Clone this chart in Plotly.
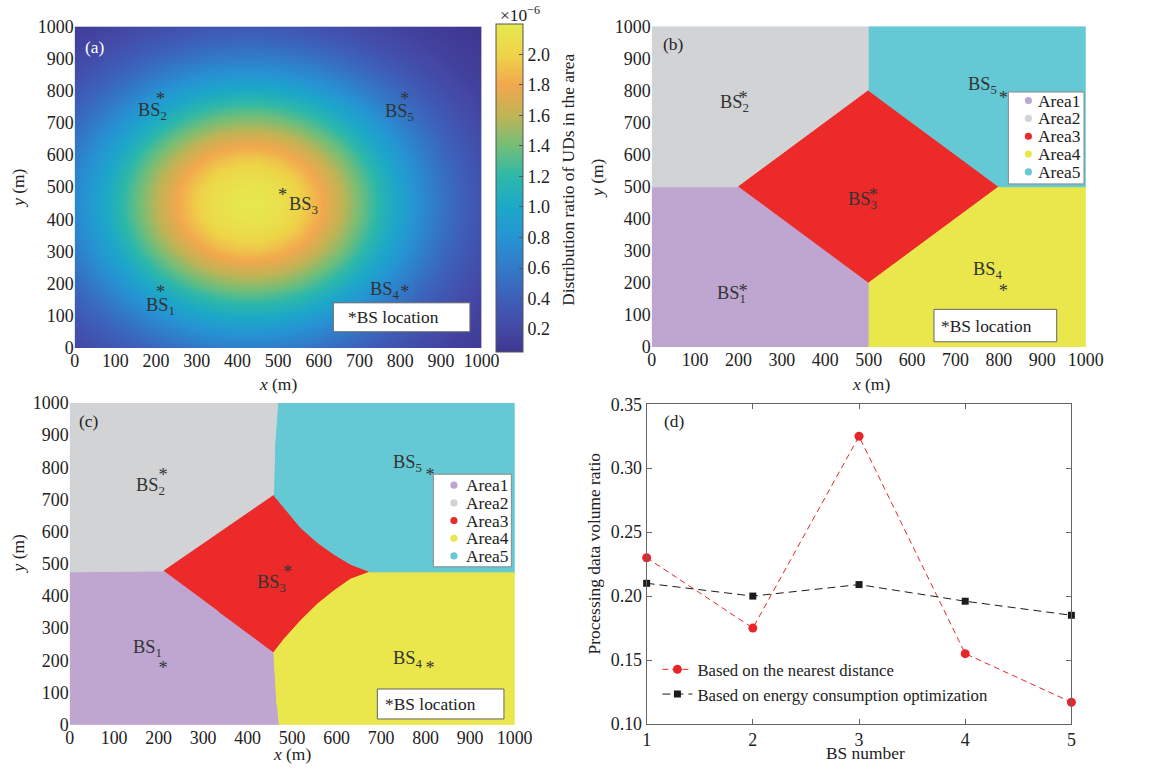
import plotly.graph_objects as go

W, H = 1163, 769
FONT = "Liberation Serif"
INK = "#222222"

# ---------------- data ----------------
GRID_M = [0, 50, 100, 150, 200, 250, 300, 350, 400, 450, 500,
          550, 600, 650, 700, 750, 800, 850, 900, 950, 1000]
AXIS_TICKS_M = [0, 100, 200, 300, 400, 500, 600, 700, 800, 900, 1000]

# (a) UD distribution ratio (x10^-6): peak value and separable x / y profiles on GRID_M
UD_PEAK = 2.2
UD_PROFILE_X = [0.320, 0.411, 0.512, 0.617, 0.722, 0.819, 0.901, 0.961, 0.995, 0.998, 0.970,
                0.915, 0.837, 0.742, 0.638, 0.532, 0.431, 0.338, 0.257, 0.189, 0.135]
UD_PROFILE_Y = [0.288, 0.374, 0.470, 0.575, 0.681, 0.782, 0.871, 0.940, 0.985, 1.000, 0.985,
                0.940, 0.871, 0.782, 0.681, 0.575, 0.470, 0.374, 0.288, 0.215, 0.155]
CBAR_TICKS = [0.2, 0.4, 0.6, 0.8, 1.0, 1.2, 1.4, 1.6, 1.8, 2.0]
CBAR_LABELS = ["0.2", "0.4", "0.6", "0.8", "1.0", "1.2", "1.4", "1.6", "1.8", "2.0"]

# base stations
BS_IDS = ["1", "2", "3", "4", "5"]
BS_X = [200, 200, 500, 800, 800]
BS_Y = [200, 800, 500, 200, 800]

AREA_NAMES = ["Area1", "Area2", "Area3", "Area4", "Area5"]
AREA_COLORS = ["#bea6d1", "#d2d3d5", "#ec2a2a", "#e9e74b", "#64c9d4"]

# (b) service areas by nearest distance
AREAS_B_X = [[0, 500, 500, 200, 0],
             [0, 200, 500, 500, 0],
             [200, 500, 800, 500],
             [500, 1000, 1000, 800, 500],
             [500, 800, 1000, 1000, 500]]
AREAS_B_Y = [[0, 0, 200, 500, 500],
             [500, 500, 800, 1000, 1000],
             [500, 800, 500, 200],
             [0, 0, 500, 500, 200],
             [800, 500, 500, 1000, 1000]]

# (c) service areas by energy consumption optimization
AREAS_C_X = [[0, 470, 466, 463, 459, 335, 212, 0],
             [0, 212, 335, 459, 462, 466, 470, 0],
             [212, 335, 459, 482, 519, 557, 594, 631, 676, 631, 594, 557, 519, 482, 459, 335],
             [470, 1000, 1000, 676, 631, 594, 557, 519, 482, 459, 463, 466],
             [459, 482, 519, 557, 594, 631, 676, 1000, 1000, 470, 466, 462]]
AREAS_C_Y = [[0, 0, 60, 130, 225, 352, 478, 475],
             [475, 478, 596, 713, 850, 930, 1000, 1000],
             [478, 596, 713, 675, 613, 566, 530, 499, 475, 452, 416, 375, 323, 266, 225, 352],
             [0, 0, 475, 475, 452, 416, 375, 323, 266, 225, 130, 60],
             [713, 675, 613, 566, 530, 499, 475, 475, 1000, 1000, 930, 850]]

# (d) processing data volume ratio per BS
BS_NUMBER = [1, 2, 3, 4, 5]
RATIO_NEAREST = [0.230, 0.175, 0.325, 0.155, 0.117]
RATIO_ENERGY = [0.210, 0.200, 0.209, 0.196, 0.185]

UD_COLORSCALE = [
    [0.000, "rgb(62,55,145)"],
    [0.070, "rgb(68,72,165)"],
    [0.163, "rgb(62,95,185)"],
    [0.256, "rgb(50,122,200)"],
    [0.349, "rgb(38,148,212)"],
    [0.442, "rgb(28,168,200)"],
    [0.535, "rgb(45,184,170)"],
    [0.628, "rgb(115,190,120)"],
    [0.721, "rgb(192,180,85)"],
    [0.814, "rgb(242,168,78)"],
    [0.907, "rgb(238,212,72)"],
    [1.000, "rgb(230,232,78)"],
]

# layout grid: page pixel -> figure pixel
SX, OX = 0.981, 3.4
SY, OY = 0.975, 8.6


def fx(x):
    return (x - OX) / SX


def fy(y):
    return (y - OY) / SY


def paper(x, y):
    return fx(x) / W, 1 - fy(y) / H


FS = 17.4      # general text
FS_TICK = 17.9
FS_BS = 18.4
FS_LEG = 16.7

fig = go.Figure()

# ---------------- (a) heatmap ----------------
z = [[UD_PEAK * gy * gx for gx in UD_PROFILE_X] for gy in UD_PROFILE_Y]
fig.add_trace(go.Heatmap(
    x=GRID_M, y=GRID_M, z=z, zsmooth="best", zmin=0.05, zmax=2.2,
    colorscale=UD_COLORSCALE, xaxis="x", yaxis="y", showlegend=False,
    hoverinfo="skip",
    colorbar=dict(
        x=fx(495) / W, xanchor="left", xpad=0, y=1 - fy(186.7) / H, yanchor="middle",
        ypad=0, len=320 / SY, lenmode="pixels", thickness=26.7 / SX,
        thicknessmode="pixels", outlinewidth=1, outlinecolor="#555555",
        tickvals=CBAR_TICKS, ticktext=CBAR_LABELS, ticks="inside", ticklen=4,
        tickcolor="#555555", tickfont=dict(family=FONT, size=FS_TICK, color=INK),
    ),
))


def add_areas(xs_list, ys_list, xa, ya):
    for xs, ys, col, name in zip(xs_list, ys_list, AREA_COLORS, AREA_NAMES):
        fig.add_trace(go.Scatter(
            x=xs, y=ys, fill="toself", fillcolor=col, mode="lines",
            line=dict(color=col, width=1), name=name, showlegend=False,
            xaxis=xa, yaxis=ya, hoverinfo="skip"))


add_areas(AREAS_B_X, AREAS_B_Y, "x2", "y2")
add_areas(AREAS_C_X, AREAS_C_Y, "x3", "y3")

# BS location asterisks
for xa, ya, pos in [("x", "y", ["bottom right"] * 5),
                    ("x2", "y2", ["bottom right"] * 5),
                    ("x3", "y3", ["bottom right", "bottom right", "bottom left",
                                  "bottom right", "bottom right"])]:
    fig.add_trace(go.Scatter(
        x=BS_X, y=BS_Y, mode="text", text=["*"] * 5, textposition=pos,
        textfont=dict(family=FONT, size=FS_BS, color="#333333"),
        xaxis=xa, yaxis=ya, showlegend=False, hoverinfo="skip", cliponaxis=False))

# ---------------- (d) lines ----------------
fig.add_trace(go.Scatter(
    x=BS_NUMBER, y=RATIO_NEAREST, mode="lines+markers",
    name="Based on the nearest distance",
    line=dict(color="#e8262a", width=1, dash="6px,4px"),
    marker=dict(symbol="circle", size=9, color="#e8262a"),
    xaxis="x4", yaxis="y4", cliponaxis=False))
fig.add_trace(go.Scatter(
    x=BS_NUMBER, y=RATIO_ENERGY, mode="lines+markers",
    name="Based on energy consumption optimization",
    line=dict(color="#1c1c1c", width=1, dash="8px,5px"),
    marker=dict(symbol="square", size=7, color="#1c1c1c"),
    xaxis="x4", yaxis="y4", cliponaxis=False))

tickfont = dict(family=FONT, size=FS_TICK, color=INK)
map_axis = dict(range=[0, 1000], tickvals=AXIS_TICKS_M, showgrid=False, zeroline=False,
                showline=False, ticks="", tickfont=tickfont, fixedrange=True)


def dom_x(a, b):
    return [fx(a) / W, fx(b) / W]


def dom_y(top, bottom):
    return [1 - fy(bottom) / H, 1 - fy(top) / H]


layout_axes = {}
for i, (dx, dy) in enumerate([((74, 481), (25, 347)),
                              ((651, 1085), (25, 346)),
                              ((69, 514), (402, 724))]):
    sfx = "" if i == 0 else str(i + 1)
    layout_axes["xaxis" + sfx] = dict(map_axis, domain=dom_x(*dx), anchor="y" + sfx)
    layout_axes["yaxis" + sfx] = dict(map_axis, domain=dom_y(*dy), anchor="x" + sfx)

frame = dict(showline=True, linecolor="#666666", linewidth=1, mirror="ticks",
             ticks="inside", ticklen=5, tickcolor="#666666", showgrid=False,
             zeroline=False, tickfont=tickfont)
layout_axes["xaxis4"] = dict(frame, domain=dom_x(646, 1070.7), range=[1, 5],
                             tickvals=BS_NUMBER, anchor="y4")
layout_axes["yaxis4"] = dict(frame, domain=dom_y(403.3, 723.3), range=[0.10, 0.35],
                             dtick=0.05, tick0=0.1, tickformat=".2f", anchor="x4")

# ---------------- annotations & shapes ----------------
ann = []
shapes = []


def text(s, x, y, size=FS, color=INK, xanchor="center", yanchor="middle", angle=0):
    px, py = paper(x, y)
    ann.append(dict(text=s, x=px, y=py, xref="paper", yref="paper", showarrow=False,
                    xanchor=xanchor, yanchor=yanchor, textangle=angle,
                    font=dict(family=FONT, size=size, color=color)))


def rect(x0, y0, x1, y1, line="#666666"):
    a, b = paper(x0, y1)
    c, d = paper(x1, y0)
    shapes.append(dict(type="rect", xref="paper", yref="paper", x0=a, y0=b, x1=c, y1=d,
                       line=dict(color=line, width=1), fillcolor="white", layer="above"))


def dot(cx, cy, col, r=3.6):
    a, b = paper(cx - r, cy + r)
    c, d = paper(cx + r, cy - r)
    shapes.append(dict(type="circle", xref="paper", yref="paper", x0=a, y0=b, x1=c, y1=d,
                       line=dict(color=col, width=0), fillcolor=col, layer="above"))


# panel tags
text("(a)", 94, 46, color="white")
text("(b)", 672, 43)
text("(c)", 88, 420)
text("(d)", 673, 420)

# axis titles
for s, x, y, ang in [("<i>x</i> (m)", 277, 383, 0), ("<i>y</i> (m)", 18, 187, -90),
                     ("<i>x</i> (m)", 870, 383, 0), ("<i>y</i> (m)", 597, 177, -90),
                     ("<i>x</i> (m)", 291, 753, 0), ("<i>y</i> (m)", 17, 553, -90),
                     ("BS number", 865, 752, 0),
                     ("Processing data volume ratio", 593, 553, -90),
                     ("Distribution ratio of UDs in the area", 568, 179, -90)]:
    text(s, x, y, angle=ang)
text("×10<sup>−6</sup>", 519, 13)

# BS name labels: (id index, left px, baseline px) per panel
BS_LABEL_POS = {
    "a": [(0, 143, 309), (1, 135, 114), (2, 286, 208), (3, 367, 293), (4, 382, 115)],
    "b": [(0, 714, 297), (1, 717, 106), (2, 845, 203), (3, 970, 273), (4, 965, 88)],
    "c": [(0, 130, 652), (1, 133, 490), (2, 254, 587), (3, 390, 663), (4, 390, 467)],
}
for key, items in BS_LABEL_POS.items():
    for idx, lx, by in items:
        text("BS<sub>%s</sub>" % BS_IDS[idx], lx, by - 4, size=FS_BS, color="#333333",
             xanchor="left")

# "*BS location" boxes
for (x0, y0, x1, y1, tx) in [(332.7, 301.7, 469.3, 330.7, 345),
                             (933.3, 308.3, 1056, 340.7, 938.3),
                             (376.7, 688.3, 503.3, 718.3, 382.7)]:
    rect(x0, y0, x1, y1)
    text("*BS location", tx, (y0 + y1) / 2, xanchor="left")

# area legends for (b) and (c)
for (bx0, by0, bx1, by1, mx, tx, ry0, step) in [
        (1007.7, 90.7, 1083.3, 182.7, 1027.7, 1035, 99.3, 17.85),
        (432.7, 473.3, 510.7, 566, 453.3, 463.3, 484.3, 17.7)]:
    rect(bx0, by0, bx1, by1, line="#888888")
    for k, (nm, col) in enumerate(zip(AREA_NAMES, AREA_COLORS)):
        cy = ry0 + k * step
        dot(mx, cy, col)
        text(nm, tx, cy, xanchor="left")

fig.update_layout(
    width=W, height=H, margin=dict(l=0, r=0, t=0, b=0),
    paper_bgcolor="white", plot_bgcolor="white",
    font=dict(family=FONT, size=FS, color=INK),
    annotations=ann, shapes=shapes,
    legend=dict(x=(fx(696) - 40) / W, xanchor="left", y=1 - (fy(672.7) - 22) / H,
                yanchor="top", bgcolor="rgba(0,0,0,0)", borderwidth=0,
                font=dict(family=FONT, size=FS_LEG, color=INK)),
    **layout_axes,
)

fig.write_html("out.html")
